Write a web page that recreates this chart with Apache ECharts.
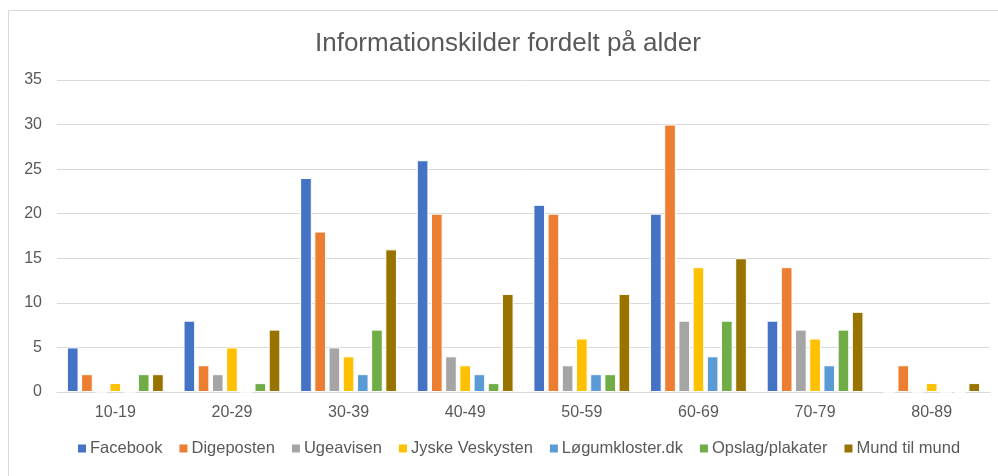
<!DOCTYPE html>
<html>
<head>
<meta charset="utf-8">
<script src="https://cdn.jsdelivr.net/npm/echarts@6/dist/echarts.min.js"></script>
<style>
  html, body { margin: 0; padding: 0; background: #fff; }
  #chart { width: 998px; height: 476px; }
</style>
</head>
<body>
<div id="chart"></div>
<script>
// aldersgrupper
var categories = ["10-19", "20-29", "30-39", "40-49", "50-59", "60-69", "70-79", "80-89"];

var facebook   = [5, 8, 24, 26, 21, 20, 8, 0];
var digeposten = [2, 3, 18, 20, 20, 30, 14, 3];
var ugeavisen  = [0, 2, 5, 4, 3, 8, 7, 0];
var jyske      = [1, 5, 4, 3, 6, 14, 6, 1];
var logumkloster = [0, 0, 2, 2, 2, 4, 3, 0];
var opslag     = [2, 1, 7, 1, 2, 8, 7, 0];
var mund       = [2, 7, 16, 11, 11, 15, 9, 1];

var seriesNames = ["Facebook", "Digeposten", "Ugeavisen", "Jyske Veskysten", "Løgumkloster.dk", "Opslag/plakater", "Mund til mund"];
var seriesData = [facebook, digeposten, ugeavisen, jyske, logumkloster, opslag, mund];
var colors = ["#4472C4", "#ED7D31", "#A5A5A5", "#FFC000", "#5B9BD5", "#70AD47", "#997300"];

var yTicks = [0, 5, 10, 15, 20, 25, 30, 35];

var font = "Liberation Sans";

var myChart = echarts.init(document.getElementById("chart"));

var series = seriesData.map(function (d, i) {
  return {
    name: seriesNames[i],
    type: "bar",
    data: d,
    barGap: "22%",
    barCategoryGap: "17%",
    itemStyle: { color: colors[i], borderColor: "#fff", borderWidth: 1 },
  };
});

myChart.setOption({
  animation: false,
  color: colors,
  graphic: [
    {
      type: "rect",
      shape: { x: 8.5, y: 10.5, width: 1000, height: 480 },
      style: { fill: "none", stroke: "#d9d9d9", lineWidth: 1 },
      silent: true,
    },
  ],
  title: {
    text: "Informationskilder fordelt på alder",
    left: 315,
    top: 31,
    padding: 0,
    textStyle: { fontFamily: font, fontSize: 26, fontWeight: "normal", color: "#595959" },
  },
  grid: { left: 57, right: 8, top: 80, bottom: 84 },
  legend: {
    bottom: 14,
    left: 71,
    icon: "rect",
    itemWidth: 10,
    itemHeight: 10,
    itemGap: 15,
    textStyle: { fontFamily: font, fontSize: 16.5, color: "#595959", padding: [0, 0, 0, -2] },
    data: seriesNames,
  },
  xAxis: {
    type: "category",
    data: categories,
    axisLine: { lineStyle: { color: "#d9d9d9", width: 1 } },
    axisTick: { show: false },
    axisLabel: { fontFamily: font, fontSize: 16, color: "#595959", margin: 13 },
  },
  yAxis: {
    type: "value",
    min: yTicks[0],
    max: yTicks[yTicks.length - 1],
    interval: 5,
    axisLine: { show: false },
    axisTick: { show: false },
    splitLine: { lineStyle: { color: "#d9d9d9", width: 1 } },
    axisLabel: { fontFamily: font, fontSize: 16, color: "#595959", margin: 15 },
  },
  series: series,
});
</script>
</body>
</html>
